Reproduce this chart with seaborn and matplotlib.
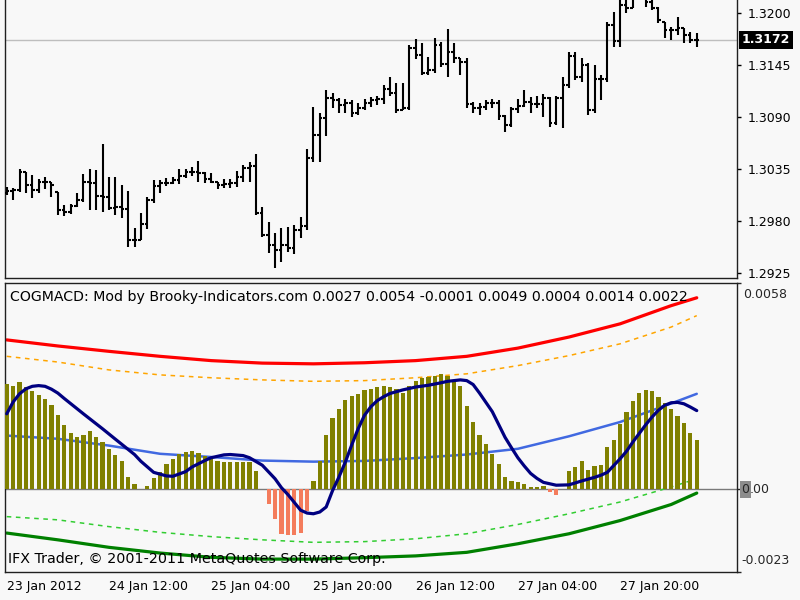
import numpy as np
import pandas as pd
import matplotlib
matplotlib.use("Agg")
import matplotlib.pyplot as plt
import seaborn as sns

sns.set_style("white")
plt.rcParams['font.family'] = ['DejaVu Sans']

BG = '#F8F8F8'

# ---------------- price data (H1 bars) ----------------
price_open = [1.3010, 1.3012, 1.3013, 1.3032, 1.3018, 1.3013, 1.3021, 1.3021, 1.3011, 1.2992,
              1.2990, 1.2996, 1.3002, 1.3021, 1.3020, 1.3007, 1.3006, 1.2994, 1.2995, 1.2993,
              1.2960, 1.2960, 1.2977, 1.3002, 1.3017, 1.3020, 1.3020, 1.3024, 1.3028, 1.3032,
              1.3032, 1.3031, 1.3025, 1.3021, 1.3018, 1.3019, 1.3020, 1.3027, 1.3036, 1.3038,
              1.2989, 1.2965, 1.2955, 1.2950, 1.2955, 1.2952, 1.2971, 1.2975, 1.3047, 1.3071,
              1.3089, 1.3110, 1.3108, 1.3103, 1.3105, 1.3095, 1.3100, 1.3105, 1.3108, 1.3109,
              1.3120, 1.3116, 1.3098, 1.3100, 1.3163, 1.3156, 1.3137, 1.3140, 1.3166, 1.3146,
              1.3159, 1.3153, 1.3149, 1.3104, 1.3100, 1.3101, 1.3105, 1.3105, 1.3091, 1.3082,
              1.3099, 1.3102, 1.3106, 1.3104, 1.3104, 1.3110, 1.3084, 1.3110, 1.3124, 1.3155,
              1.3133, 1.3145, 1.3098, 1.3131, 1.3130, 1.3188, 1.3171, 1.3209, 1.3206, 1.3217,
              1.3222, 1.3212, 1.3206, 1.3191, 1.3182, 1.3182, 1.3184, 1.3177, 1.3172]
price_high = [1.3016, 1.3015, 1.3035, 1.3032, 1.3029, 1.3025, 1.3027, 1.3021, 1.3011, 1.2997,
              1.2998, 1.3010, 1.3030, 1.3035, 1.3034, 1.3062, 1.3027, 1.3027, 1.3018, 1.3012,
              1.2973, 1.2989, 1.3006, 1.3024, 1.3024, 1.3026, 1.3027, 1.3035, 1.3035, 1.3037,
              1.3044, 1.3032, 1.3031, 1.3021, 1.3025, 1.3025, 1.3033, 1.3040, 1.3043, 1.3051,
              1.2995, 1.2979, 1.2967, 1.2973, 1.2974, 1.2976, 1.2984, 1.3056, 1.3101, 1.3094,
              1.3119, 1.3116, 1.3110, 1.3109, 1.3108, 1.3105, 1.3109, 1.3111, 1.3113, 1.3124,
              1.3133, 1.3126, 1.3126, 1.3166, 1.3173, 1.3169, 1.3154, 1.3174, 1.3170, 1.3183,
              1.3169, 1.3153, 1.3153, 1.3106, 1.3105, 1.3108, 1.3109, 1.3108, 1.3092, 1.3101,
              1.3109, 1.3119, 1.3111, 1.3112, 1.3115, 1.3111, 1.3113, 1.3133, 1.3159, 1.3159,
              1.3153, 1.3147, 1.3145, 1.3135, 1.3191, 1.3201, 1.3222, 1.3219, 1.3225, 1.3230,
              1.3227, 1.3219, 1.3207, 1.3191, 1.3185, 1.3196, 1.3184, 1.3180, 1.3179]
price_low = [1.3008, 1.3002, 1.3011, 1.3010, 1.3005, 1.3010, 1.3014, 1.3006, 1.2987, 1.2985,
             1.2988, 1.2995, 1.3000, 1.2992, 1.2992, 1.2990, 1.2992, 1.2987, 1.2983, 1.2953,
             1.2953, 1.2960, 1.2972, 1.2999, 1.3010, 1.3017, 1.3019, 1.3019, 1.3026, 1.3028,
             1.3021, 1.3020, 1.3020, 1.3014, 1.3015, 1.3015, 1.3016, 1.3021, 1.3021, 1.2987,
             1.2963, 1.2946, 1.2930, 1.2937, 1.2947, 1.2945, 1.2962, 1.2971, 1.3043, 1.3043,
             1.3070, 1.3100, 1.3095, 1.3094, 1.3090, 1.3092, 1.3098, 1.3101, 1.3103, 1.3104,
             1.3113, 1.3095, 1.3098, 1.3098, 1.3152, 1.3135, 1.3135, 1.3137, 1.3143, 1.3133,
             1.3147, 1.3135, 1.3100, 1.3094, 1.3092, 1.3098, 1.3100, 1.3087, 1.3074, 1.3080,
             1.3095, 1.3101, 1.3094, 1.3100, 1.3090, 1.3080, 1.3082, 1.3079, 1.3121, 1.3129,
             1.3127, 1.3092, 1.3095, 1.3108, 1.3127, 1.3164, 1.3164, 1.3200, 1.3206, 1.3217,
             1.3207, 1.3203, 1.3190, 1.3174, 1.3172, 1.3177, 1.3169, 1.3169, 1.3164]
price_close = [1.3012, 1.3013, 1.3032, 1.3018, 1.3013, 1.3021, 1.3022, 1.3018, 1.2992, 1.2990,
               1.2996, 1.3002, 1.3021, 1.3020, 1.3007, 1.3006, 1.2994, 1.2995, 1.2993, 1.2960,
               1.2960, 1.2977, 1.3002, 1.3017, 1.3020, 1.3020, 1.3024, 1.3028, 1.3032, 1.3032,
               1.3031, 1.3025, 1.3022, 1.3018, 1.3019, 1.3020, 1.3027, 1.3036, 1.3038, 1.2989,
               1.2965, 1.2955, 1.2950, 1.2955, 1.2952, 1.2971, 1.2975, 1.3047, 1.3071, 1.3089,
               1.3110, 1.3108, 1.3103, 1.3105, 1.3095, 1.3100, 1.3105, 1.3108, 1.3109, 1.3120,
               1.3116, 1.3098, 1.3100, 1.3163, 1.3156, 1.3137, 1.3140, 1.3166, 1.3146, 1.3159,
               1.3153, 1.3149, 1.3104, 1.3100, 1.3101, 1.3105, 1.3105, 1.3091, 1.3082, 1.3099,
               1.3102, 1.3106, 1.3104, 1.3104, 1.3110, 1.3084, 1.3110, 1.3124, 1.3155, 1.3133,
               1.3145, 1.3098, 1.3131, 1.3130, 1.3188, 1.3171, 1.3209, 1.3206, 1.3217, 1.3222,
               1.3212, 1.3206, 1.3193, 1.3182, 1.3182, 1.3184, 1.3177, 1.3172, 1.3172]

# ---------------- COGMACD indicator ----------------
histogram = [0.00296, 0.00291, 0.00301, 0.00287, 0.00275, 0.00266, 0.00254, 0.00238, 0.00210, 0.00182,
             0.00158, 0.00148, 0.00154, 0.00163, 0.00148, 0.00133, 0.00114, 0.00097, 0.00081, 0.00036,
             0.00014, 0.00002, 0.00011, 0.00032, 0.00049, 0.00072, 0.00086, 0.00100, 0.00105, 0.00107,
             0.00102, 0.00095, 0.00091, 0.00081, 0.00077, 0.00077, 0.00077, 0.00077, 0.00077, 0.00051,
             0.00002, -0.00042, -0.00082, -0.00124, -0.00127, -0.00127, -0.00121, -0.00059, 0.00025, 0.00081,
             0.00154, 0.00201, 0.00226, 0.00252, 0.00261, 0.00268, 0.00279, 0.00282, 0.00287, 0.00291,
             0.00287, 0.00282, 0.00270, 0.00291, 0.00305, 0.00312, 0.00315, 0.00319, 0.00324, 0.00317,
             0.00307, 0.00289, 0.00233, 0.00189, 0.00154, 0.00128, 0.00100, 0.00072, 0.00036, 0.00023,
             0.00021, 0.00014, 0.00008, 0.00007, 0.00011, -0.00006, -0.00015, 0.00002, 0.00051, 0.00063,
             0.00081, 0.00055, 0.00067, 0.00070, 0.00119, 0.00140, 0.00184, 0.00217, 0.00247, 0.00270,
             0.00279, 0.00275, 0.00260, 0.00242, 0.00226, 0.00207, 0.00186, 0.00158, 0.00140]

signal_idx = [0, 1, 2, 3, 4, 5, 6, 7, 8, 9, 12, 15, 17, 20, 21, 23, 25, 26, 28, 29,
              31, 32, 34, 35, 37, 38, 40, 42, 43, 44, 45, 46, 47, 48, 49, 50, 51, 52, 53, 54,
              55, 56, 57, 58, 59, 60, 62, 64, 66, 68, 69, 71, 72, 73, 74, 75, 76, 77, 78, 79,
              80, 81, 82, 83, 84, 86, 88, 90, 92, 93, 94, 95, 96, 97, 98, 99, 100, 101, 102, 103,
              104, 105, 106, 107, 108]
signal_val = [0.00212, 0.00245, 0.00268, 0.00282, 0.00289, 0.00291, 0.00289, 0.00281, 0.00270, 0.00255,
              0.00212, 0.00170, 0.00141, 0.00098, 0.00079, 0.00048, 0.00038, 0.00037, 0.00050, 0.00063,
              0.00081, 0.00089, 0.00097, 0.00098, 0.00095, 0.00089, 0.00068, 0.00030, 0.00005, -0.00014,
              -0.00036, -0.00058, -0.00066, -0.00068, -0.00063, -0.00049, -0.00003, 0.00035, 0.00077, 0.00125,
              0.00170, 0.00208, 0.00232, 0.00249, 0.00260, 0.00269, 0.00279, 0.00287, 0.00292, 0.00299,
              0.00303, 0.00307, 0.00305, 0.00294, 0.00270, 0.00244, 0.00218, 0.00182, 0.00146, 0.00117,
              0.00089, 0.00066, 0.00045, 0.00031, 0.00020, 0.00012, 0.00013, 0.00024, 0.00034, 0.00040,
              0.00048, 0.00067, 0.00086, 0.00107, 0.00133, 0.00157, 0.00181, 0.00203, 0.00222, 0.00236,
              0.00243, 0.00244, 0.00240, 0.00231, 0.00221]

band_idx = [0, 8, 16, 24, 32, 40, 48, 56, 64, 72, 80, 88, 96, 104, 108]
cog_center = [0.00151, 0.00142, 0.00123, 0.00100, 0.00091, 0.00081, 0.00078, 0.00080,
              0.00088, 0.00098, 0.00114, 0.00149, 0.00189, 0.00241, 0.00268]
upper_band = [0.00419, 0.00402, 0.00387, 0.00373, 0.00361, 0.00354, 0.00352, 0.00355,
              0.00361, 0.00373, 0.00396, 0.00427, 0.00464, 0.00515, 0.00537]
upper_inner = [0.00373, 0.00357, 0.00335, 0.00321, 0.00313, 0.00307, 0.00303, 0.00305,
               0.00313, 0.00324, 0.00347, 0.00375, 0.00408, 0.00455, 0.00487]
lower_inner = [-0.00076, -0.00085, -0.00104, -0.00120, -0.00132, -0.00141, -0.00148, -0.00146,
               -0.00138, -0.00124, -0.00098, -0.00068, -0.00035, 0.00007, 0.00030]
lower_band = [-0.00122, -0.00141, -0.00162, -0.00178, -0.00190, -0.00195, -0.00195, -0.00191,
              -0.00186, -0.00176, -0.00152, -0.00124, -0.00087, -0.00042, -0.00010]

# ---------------- labels ----------------
date_tick_idx = [0, 16, 32, 48, 64, 80, 96]
date_labels = ['23 Jan 2012', '24 Jan 12:00', '25 Jan 04:00', '25 Jan 20:00',
               '26 Jan 12:00', '27 Jan 04:00', '27 Jan 20:00']
price_ticks = [1.3200, 1.3145, 1.3090, 1.3035, 1.2980, 1.2925]
last_price = 1.3172
osc_top, osc_bottom = 0.0058, -0.0023
header_values = ['0.0027', '0.0054', '-0.0001', '0.0049', '0.0004', '0.0014', '0.0022']
header_title = 'COGMACD: Mod by Brooky-Indicators.com'
footer_text = 'IFX Trader, \u00a9 2001-2011 MetaQuotes Software Corp.'

# ---------------- figure ----------------
fig = plt.figure(figsize=(8, 6), dpi=100, facecolor=BG)
ax1 = fig.add_axes([5 / 800, 1 - 278 / 600, 732 / 800, 278 / 600])
ax2 = fig.add_axes([5 / 800, 1 - 572 / 600, 732 / 800, 289 / 600])
XLIM = (-0.27, 114.3)
for ax in (ax1, ax2):
    ax.set_facecolor(BG)
    for s in ax.spines.values():
        s.set_color('#202020')
        s.set_linewidth(1.0)
    ax.set_xlim(*XLIM)

n = len(price_close)
idx = np.arange(n)

# --- price bars (OHLC) ---
ax1.vlines(idx, price_low, price_high, color='black', lw=1.5, zorder=3)
ax1.hlines(price_open, idx - 0.42, idx, color='black', lw=1.5, zorder=3)
ax1.hlines(price_close, idx, idx + 0.42, color='black', lw=1.5, zorder=3)
ax1.axhline(last_price, color='#BEBEBE', lw=1.0, zorder=1)
ax1.set_ylim(1.29199, 1.32141)
ax1.spines['top'].set_visible(False)
ax1.yaxis.tick_right()
ax1.set_yticks(price_ticks)
ax1.set_yticklabels([f'{p:.4f}' for p in price_ticks])
ax1.tick_params(axis='y', direction='out', length=3, width=1, pad=5,
                labelsize=9, colors='black')
ax1.set_xticks([])
ax1.annotate(f'{last_price:.4f}', xy=(1.0, last_price), xycoords=('axes fraction', 'data'),
             xytext=(3.5, 0), textcoords='offset points', ha='left', va='center',
             fontsize=9, color='white', fontweight='bold',
             bbox=dict(boxstyle='square,pad=0.22', fc='black', ec='none'))

# --- oscillator ---
df = pd.DataFrame({'bar': idx, 'hist': histogram})
df['sign'] = np.where(df['hist'] >= 0, 'up', 'down')
sns.barplot(data=df, x='bar', y='hist', hue='sign', dodge=False, native_scale=True,
            palette={'up': '#808000', 'down': '#F47C5C'}, width=0.66, saturation=1,
            errorbar=None, legend=False, linewidth=0, ax=ax2, zorder=3)

ax2.axhline(0, color='#7A7A7A', lw=1.0, zorder=2)
sns.lineplot(x=band_idx, y=cog_center, color='#4169E1', lw=1.8, ax=ax2, zorder=2)
sns.lineplot(x=band_idx, y=upper_band, color='#FF0000', lw=2.3, ax=ax2, zorder=2)
sns.lineplot(x=band_idx, y=lower_band, color='#008000', lw=2.3, ax=ax2, zorder=2)
ax2.plot(band_idx, upper_inner, color='#FFA500', lw=1.1, linestyle=(0, (3, 3)), zorder=2)
ax2.plot(band_idx, lower_inner, color='#32CD32', lw=1.1, linestyle=(0, (3, 3)), zorder=2)
sns.lineplot(x=signal_idx, y=signal_val, color='#000080', lw=2.3, ax=ax2, zorder=4)

ax2.set_ylim(-0.002311, 0.005784)
ax2.set_xlim(*XLIM)
ax2.set_xlabel('')
ax2.set_ylabel('')
ax2.yaxis.tick_right()
ax2.set_yticks([-0.002311, 0.0, 0.005784])
ax2.set_yticklabels(['', '', ''])
ax2.tick_params(axis='y', direction='out', length=3, width=1)
ax2.set_xticks(date_tick_idx)
ax2.set_xticklabels(date_labels)
ax2.tick_params(axis='x', direction='out', length=4, width=1, pad=2, labelsize=9, colors='black')
for lab in ax2.get_xticklabels():
    lab.set_ha('left')

ax2.annotate(f'{osc_top:.4f}', xy=(1.0, 0.005784), xycoords=('axes fraction', 'data'),
             xytext=(4.5, -8), textcoords='offset points', ha='left', va='center', fontsize=9)
ax2.annotate(f'{osc_bottom:.4f}', xy=(1.0, -0.002311), xycoords=('axes fraction', 'data'),
             xytext=(3.5, 8), textcoords='offset points', ha='left', va='center', fontsize=9)
ax2.annotate('0', xy=(1.0, 0.0), xycoords=('axes fraction', 'data'),
             xytext=(3.3, 0), textcoords='offset points', ha='left', va='center', fontsize=9,
             bbox=dict(boxstyle='square,pad=0.15', fc='#8C8C8C', ec='none'))
ax2.annotate('.00', xy=(1.0, 0.0), xycoords=('axes fraction', 'data'),
             xytext=(9.0, 0), textcoords='offset points', ha='left', va='center', fontsize=9)

ax2.text(0.007, 0.951, header_title + ' ' + ' '.join(header_values), transform=ax2.transAxes,
         ha='left', va='center', fontsize=10.2, color='black', zorder=6)
ax2.text(0.004, 0.045, footer_text, transform=ax2.transAxes,
         ha='left', va='center', fontsize=10.3, color='black', zorder=6)

fig.savefig('out.png', dpi=100, facecolor=BG)
